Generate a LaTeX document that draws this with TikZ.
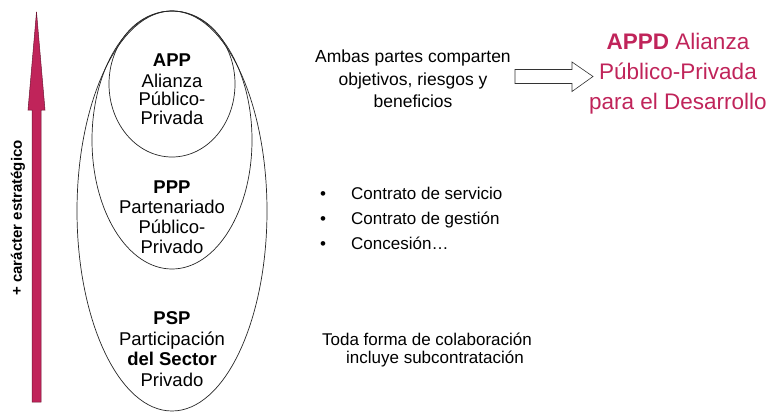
\documentclass[tikz,border=0pt]{standalone}
\usepackage{fontspec}
\setmainfont{Liberation Sans}
\definecolor{crim}{RGB}{192,36,90}
\definecolor{crimdark}{RGB}{110,20,50}
\begin{document}
\begin{tikzpicture}[x=1pt,y=-1pt,
  ell/.style={draw=black!85, line width=0.7pt},
  etxt/.style={inner sep=0pt, align=center},
  rtxt/.style={inner sep=0pt, align=center, font=\fontsize{17.5}{22.5}\selectfont},
  btxt/.style={inner sep=0pt, anchor=base west, font=\fontsize{17}{20}\selectfont},
  bdot/.style={inner sep=0pt, anchor=base, font=\fontsize{17}{20}\selectfont},
  ttxt/.style={inner sep=0pt, anchor=base, font=\fontsize{17}{20}\selectfont}]
\useasboundingbox (0,0) rectangle (771,412);
% strategic arrow
\fill[crim, draw=crimdark, line width=0.5pt]
  (32,402) -- (32,110) -- (28,110) -- (36.5,12) -- (45,110) -- (41,110) -- (41,402) -- cycle;
\node[inner sep=0pt, rotate=90, font=\fontsize{15}{18}\selectfont\bfseries] (lab) at (18,218) {+ carácter estratégico};
% ellipses
\draw[ell] (172,211) ellipse [x radius=95, y radius=200];
\draw[ell] (172,140) ellipse [x radius=80, y radius=129];
\draw[ell] (172,84) ellipse [x radius=63, y radius=73];
% ellipse texts
\node[etxt, font=\fontsize{18.5}{18.5}\selectfont] (app) at (172,89) {\textbf{APP}\\[2pt]Alianza\\Público-\\Privada};
\node[etxt, font=\fontsize{18.5}{20}\selectfont] (ppp) at (172,217) {\textbf{PPP}\\Partenariado\\Público-\\Privado};
\node[etxt, font=\fontsize{18.5}{20.7}\selectfont] (psp) at (172,349) {\textbf{PSP}\\Participación\\\textbf{del Sector}\\Privado};
% top right
\node[rtxt] (ambas) at (413,79) {Ambas partes comparten\\objetivos, riesgos y\\beneficios};
\node[inner sep=0pt, align=center, text=crim, font=\fontsize{22.5}{30}\selectfont] (appd) at (678,73.5) {\textbf{APPD} Alianza\\Público-Privada\\para el Desarrollo};
\draw[fill=white, draw=black!80, line width=0.6pt]
  (515,69.5) -- (572,69.5) -- (572,62) -- (593,76.5) -- (572,91.5) -- (572,83.5) -- (515,83.5) -- cycle;
% bullets
\node[bdot] (d1) at (323,199) {•};
\node[bdot] (d2) at (323,224) {•};
\node[bdot] (d3) at (323,249) {•};
\node[btxt] (b1) at (351,199) {Contrato de servicio};
\node[btxt] (b2) at (351,224) {Contrato de gestión};
\node[btxt] (b3) at (351,249) {Concesión…};
% bottom text
\node[ttxt] (t1) at (427,345) {Toda forma de colaboración};
\node[ttxt] (t2) at (435,363) {incluye subcontratación};
\end{tikzpicture}
\end{document}
